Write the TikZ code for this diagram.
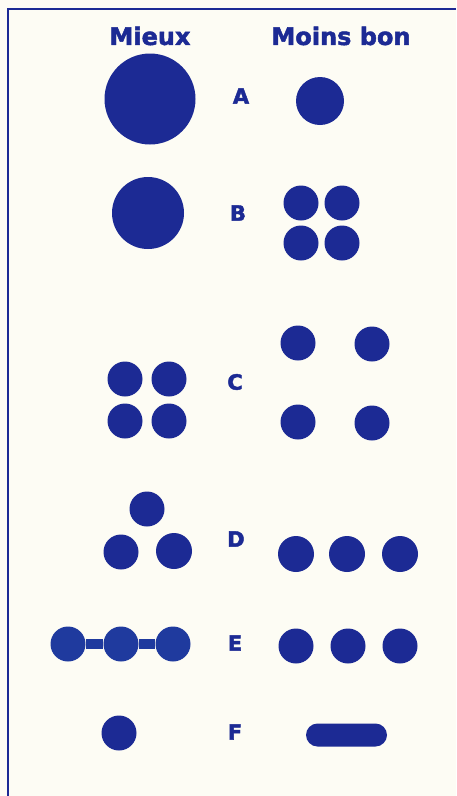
\documentclass[tikz,border=0pt]{standalone}
\usepackage{fontspec}
\setmainfont{DejaVu Sans}
\newfontfamily\heavy[FakeBold=2]{DejaVu Sans Bold}
\definecolor{ink}{HTML}{1C2A94}
\definecolor{inkE}{HTML}{1F3A9E}
\definecolor{paper}{HTML}{FDFCF4}
\begin{document}
\begin{tikzpicture}[x=1pt,y=-1pt,
  dot/.style={circle,fill=ink,inner sep=0pt,minimum size=#1},
  dot/.default=35,
  head/.style={text=ink,font=\fontsize{24}{27}\heavy,inner sep=0pt,anchor=center},
  lab/.style={text=ink,font=\fontsize{21}{24}\heavy,inner sep=0pt,anchor=center},
  frame/.style={draw=ink,line width=2pt}]
\useasboundingbox (0,0) rectangle (456,796);
\fill[paper] (0,0) rectangle (456,796);
\coordinate (tl) at (8,9);
\coordinate (tr) at (456,9);
\coordinate (bl) at (8,796);
\draw[frame] (tr) -- (tl) -- (bl);
% headers
\node[head] (h1) at (150,36) {Mieux};
\node[head] (h2) at (341,36) {Moins bon};
% A
\node[dot=91] (a1) at (150,99) {};
\node[lab] (la) at (241,96) {A};
\node[dot=48] (a2) at (320,101) {};
% B
\node[dot=72] (b1) at (148,213) {};
\node[lab] (lb) at (238,213) {B};
\node[dot] (b2) at (301,203) {};
\node[dot] (b3) at (342,203) {};
\node[dot] (b4) at (301,243) {};
\node[dot] (b5) at (342,243) {};
% C
\node[dot] (c1) at (125,379) {};
\node[dot] (c2) at (169,379) {};
\node[dot] (c3) at (125,421) {};
\node[dot] (c4) at (169,421) {};
\node[lab] (lc) at (235,382) {C};
\node[dot] (c5) at (298,343) {};
\node[dot] (c6) at (372,344) {};
\node[dot] (c7) at (298,422) {};
\node[dot] (c8) at (372,423) {};
% D
\node[dot] (d1) at (147,509) {};
\node[dot] (d2) at (121,552) {};
\node[dot=36] (d3) at (174,551) {};
\node[lab] (ld) at (236,539) {D};
\node[dot=36] (d4) at (296,554) {};
\node[dot=36] (d5) at (347,554) {};
\node[dot=36] (d6) at (400,554) {};
% E
\node[dot=35,fill=inkE] (e1) at (68,644) {};
\node[dot=35,fill=inkE] (e2) at (121,644) {};
\node[dot=35,fill=inkE] (e3) at (173,644) {};
\draw[inkE,line width=10.5pt] (e1) -- (e2) (e2) -- (e3);
\node[lab] (le) at (235,643) {E};
\node[dot] (e4) at (296,646) {};
\node[dot] (e5) at (348,646) {};
\node[dot] (e6) at (400,646) {};
% F
\node[dot] (f1) at (119,733) {};
\node[lab] (lf) at (235,732) {F};
\node[fill=ink,rounded corners=11.5pt,minimum width=81pt,minimum height=23pt,inner sep=0pt] (f2) at (346.5,735) {};
\end{tikzpicture}
\end{document}
